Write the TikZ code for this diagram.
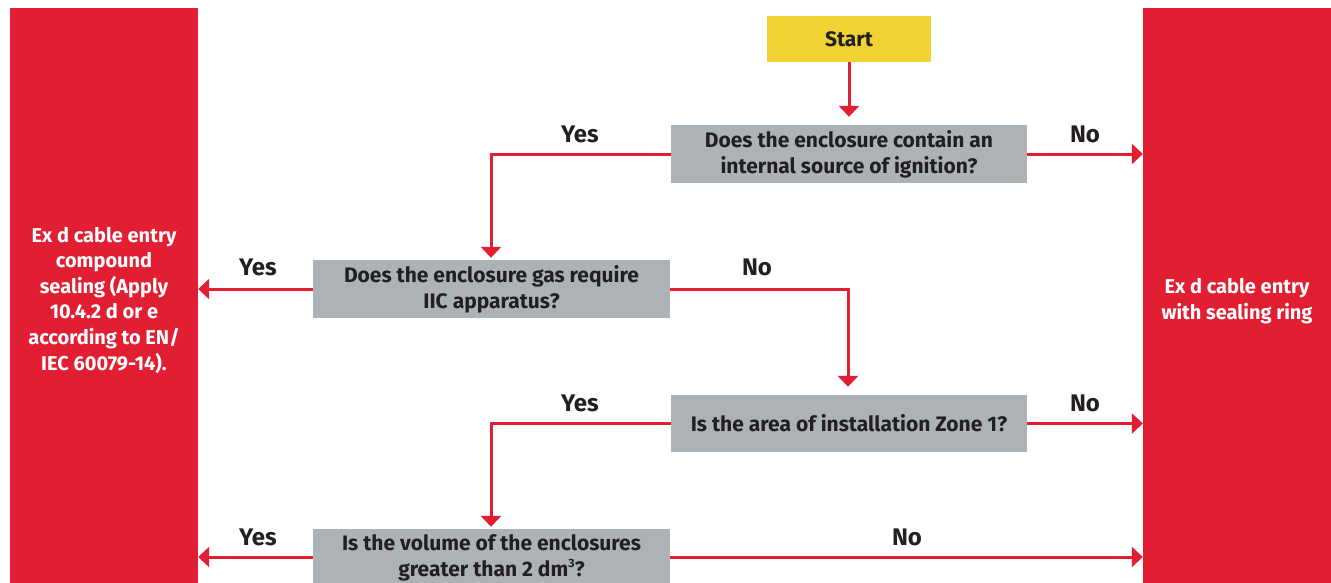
\documentclass[tikz,border=0pt]{standalone}
\usepackage{fontspec}
\setmainfont{Fira Sans}
\usetikzlibrary{arrows.meta}
\definecolor{exred}{HTML}{E21F32}
\definecolor{exyellow}{HTML}{F0D332}
\definecolor{exgray}{HTML}{ADB2B7}
\definecolor{extext}{HTML}{231F20}
\tikzset{
  bar/.style={fill=exred, draw=none, minimum width=188pt, minimum height=580pt, inner sep=0pt},
  bartext/.style={text=white, font=\bfseries\fontsize{20}{25.6}\selectfont, align=center, inner sep=0pt},
  qbox/.style={fill=exgray, draw=none, minimum width=357pt, minimum height=58pt, inner sep=0pt,
    text=extext, font=\bfseries\fontsize{21}{26}\selectfont, align=center},
  startbox/.style={fill=exyellow, draw=none, minimum width=164pt, minimum height=46pt, inner sep=0pt,
    text=extext, font=\bfseries\fontsize{21}{24}\selectfont},
  lbl/.style={text=extext, font=\bfseries\fontsize{24}{26}\selectfont, anchor=base, inner sep=0pt},
  conn/.style={draw=exred, line width=3pt, -{Triangle[length=11pt,width=20pt]}}
}
\newcommand{\supthree}{\raisebox{0.45em}{\fontsize{12}{12}\selectfont 3}}
\begin{document}
\begin{tikzpicture}[x=1pt,y=-1pt]
\useasboundingbox (0,0) rectangle (1331,582);
\clip (0,0) rectangle (1331,582);
\node[bar] (L) at (104,298) {};
\node[bar] (R) at (1237,298) {};
\node[bartext] (Lt) at (104,300) {Ex d cable entry\\ compound\\ sealing (Apply\\ 10.4.2 d or e\\ according to EN/\\ IEC 60079-14).};
\node[bartext] (Rt) at (1237,301) {Ex d cable entry\\ with sealing ring};
\node[startbox] (S) at (849,39) {Start};
\node[qbox, minimum width=356pt] (Q1) at (849,154) {Does the enclosure contain an\\ internal source of ignition?};
\node[qbox] (Q2) at (491.5,289) {Does the enclosure gas require\\ IIC apparatus?};
\node[qbox, minimum width=356pt, minimum height=57pt] (Q3) at (849,423.5) {Is the area of installation Zone 1?};
\node[qbox, minimum height=58pt] (Q4) at (491.5,558) {Is the volume of the enclosures\\ greater than 2 dm\supthree?};
\coordinate (c1) at (491,154);
\coordinate (c2) at (848,289);
\coordinate (c3) at (491,423.5);
\draw[conn, shorten >=8pt] (S.south) -- (Q1.north);
\draw[conn, shorten >=2pt] (Q1.west) -- (c1) -- (c1 |- Q2.north);
\draw[conn] (Q1.east) -- (R.west |- Q1.east);
\draw[conn] (Q2.west) -- (L.east |- Q2.west);
\draw[conn, shorten >=8pt] (Q2.east) -- (c2) -- (c2 |- Q3.north);
\draw[conn, shorten >=2pt] (Q3.west) -- (c3) -- (c3 |- Q4.north);
\draw[conn] (Q3.east) -- (R.west |- Q3.east);
\draw[conn] (Q4.west |- 0,557) -- (L.east |- 0,557);
\draw[conn] (Q4.east |- 0,557) -- (R.west |- 0,557);
\node[lbl] (y1) at (580,142) {Yes};
\node[lbl] (n1) at (1085,142) {No};
\node[lbl] (y2) at (258,275) {Yes};
\node[lbl] (n2) at (757,275) {No};
\node[lbl] (y3) at (580,411) {Yes};
\node[lbl] (n3) at (1085,411) {No};
\node[lbl] (y4) at (258,545) {Yes};
\node[lbl] (n4) at (907,545) {No};
\end{tikzpicture}
\end{document}
